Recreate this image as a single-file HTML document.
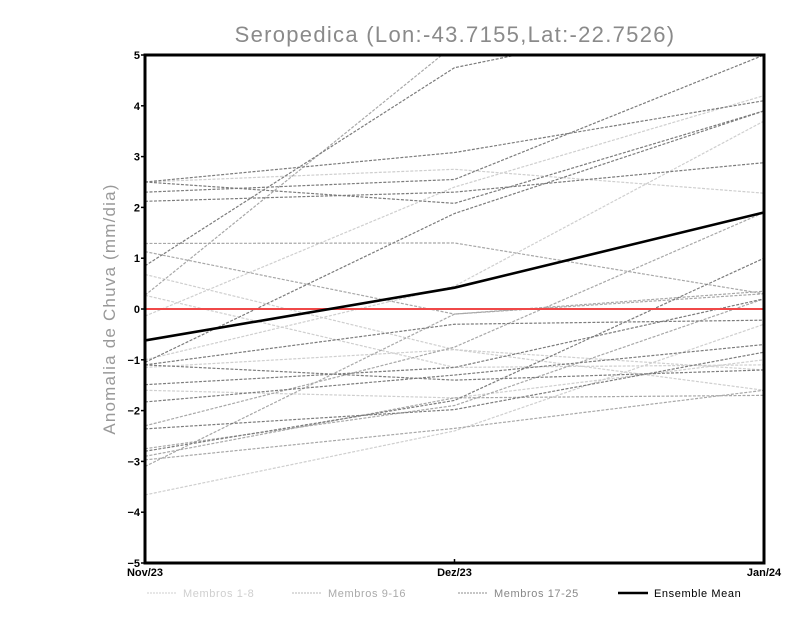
<!DOCTYPE html>
<html><head><meta charset="utf-8"><style>
body{margin:0;background:#fff}
svg{display:block}
text{font-family:"Liberation Sans",sans-serif}
</style></head><body>
<svg id="chart" width="800" height="618" viewBox="0 0 800 618">
<text x="455" y="42" text-anchor="middle" font-size="22" fill="#8a8a8a" letter-spacing="1.3">Seropedica (Lon:-43.7155,Lat:-22.7526)</text>
<text transform="translate(115,309) rotate(-90)" text-anchor="middle" font-size="17" fill="#999" letter-spacing="1.2">Anomalia de Chuva (mm/dia)</text>
<g id="lines"></g>
<g id="axes"></g>
<g id="legend"></g>
</svg>
<script>
const categories = ["Nov/23","Dez/23","Jan/24"];
const yTicks = [-5,-4,-3,-2,-1,0,1,2,3,4,5];
const group1 = [[0.68,-0.8,-1.2],[0.27,-1.15,-1.1],[-0.14,2.4,4.2],[-1.0,0.45,3.7],[-3.66,-2.4,-0.3],[-1.6,-1.75,-1.0],[2.5,2.75,2.28],[-1.15,-0.8,-1.6]];
const group2 = [[0.27,5.2,8.0],[1.29,1.3,0.3],[-2.3,-0.75,1.9],[-2.9,-1.75,-1.7],[-2.97,-2.35,-1.6],[-3.1,-0.1,0.3],[1.13,-0.1,0.35],[-2.75,-1.9,0.2]];
const group3 = [[0.85,4.75,6.0],[2.5,3.08,4.1],[2.3,2.55,5.0],[2.12,2.3,2.88],[2.5,2.08,3.9],[-1.05,1.88,3.9],[-1.1,-0.3,-0.22],[-1.49,-1.15,0.2],[-1.83,-1.3,-0.7],[-1.1,-1.4,-1.2],[-2.36,-1.98,-0.85],[-2.8,-1.8,1.0]];
const ensembleMean = [-0.62,0.42,1.9];
const legendLabels = ["Membros 1-8","Membros 9-16","Membros 17-25","Ensemble Mean"];

const X0=145,X1=764,Y0=563,Y1=55,ymin=-5,ymax=5;
const xs=i=>X0+(X1-X0)*i/(categories.length-1);
const ys=v=>Y0-(v-ymin)/(ymax-ymin)*(Y0-Y1);
const NS="http://www.w3.org/2000/svg";
function mk(t,a,p){const e=document.createElementNS(NS,t);for(const k in a)e.setAttribute(k,a[k]);p.appendChild(e);return e;}
const svg=document.getElementById('chart');
const lg=document.getElementById('lines');
const cp=mk('clipPath',{id:'clip'},svg);mk('rect',{x:X0,y:Y1,width:X1-X0,height:Y0-Y1},cp);
lg.setAttribute('clip-path','url(#clip)');
function poly(vals,color,w,dash,name){
  const p=mk('polyline',{points:vals.map((v,i)=>xs(i)+','+ys(v)).join(' '),fill:'none',stroke:color,'stroke-width':w},lg);
  if(dash)p.setAttribute('stroke-dasharray',dash);
  
  
}
group1.forEach((s,i)=>poly(s,'#cfcfcf',1.2,'3,1.5','member-light-'+(i+1)));
group2.forEach((s,i)=>poly(s,'#a8a8a8',1.2,'3,1.5','member-medium-'+(i+9)));
group3.forEach((s,i)=>poly(s,'#7c7c7c',1.2,'3,1.5','member-dark-'+(i+17)));
const zl=mk('line',{x1:X0,x2:X1,y1:ys(0),y2:ys(0),stroke:'#f04848','stroke-width':2},lg);


poly(ensembleMean,'#000',2.6,null,'ensemble-mean-line');
const ax=document.getElementById('axes');
const fr=mk('rect',{x:X0,y:Y1,width:X1-X0,height:Y0-Y1,fill:'none',stroke:'#000','stroke-width':3},ax);


yTicks.forEach(v=>{
  mk('line',{x1:X0-4,x2:X0,y1:ys(v),y2:ys(v),stroke:'#000','stroke-width':1.5},ax);
  const t=mk('text',{x:X0-5,y:ys(v)+4,'text-anchor':'end','font-size':11,'font-weight':'bold'},ax);
  t.textContent=(v<0?'\u2212':'')+Math.abs(v);
  
  
});
categories.forEach((c,i)=>{
  mk('line',{x1:xs(i),x2:xs(i),y1:Y0,y2:Y0-4,stroke:'#000','stroke-width':1.5},ax);
  const t=mk('text',{x:xs(i),y:Y0+13,'text-anchor':'middle','font-size':11,'font-weight':'bold'},ax);
  t.textContent=c;
  
  
});
const leg=document.getElementById('legend');
const lx=[147,292,458,618],lcol=['#cfcfcf','#b8b8b8','#8c8c8c','#000'],tcol=['#cfcfcf','#aaa','#888','#000'];
legendLabels.forEach((l,i)=>{
  const g=mk('g',{},leg);
  
  
  const ln=mk('line',{x1:lx[i],x2:lx[i]+30,y1:593,y2:593,stroke:lcol[i],'stroke-width':i==3?2.6:1},g);
  if(i<3)ln.setAttribute('stroke-dasharray','2,1');
  const t=mk('text',{x:lx[i]+36,y:597,'font-size':11,fill:tcol[i],'letter-spacing':'0.6'},g);
  t.textContent=l;
});
</script>
</body></html>
